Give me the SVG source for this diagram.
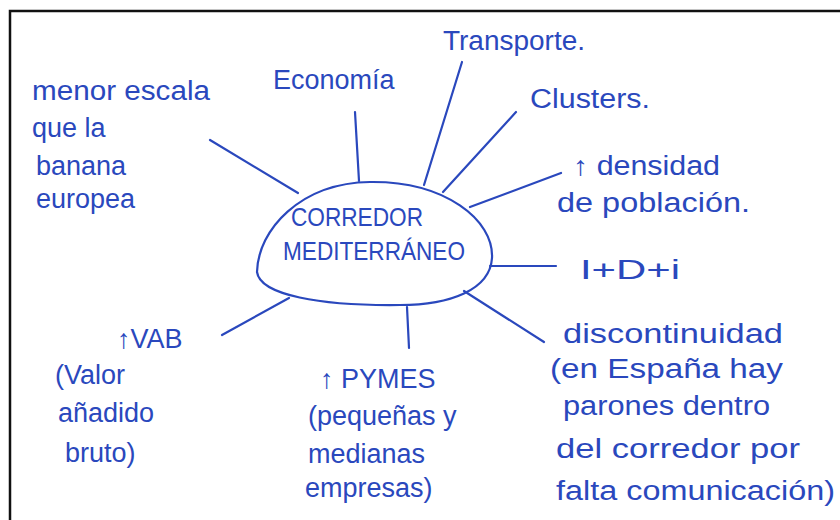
<svg xmlns="http://www.w3.org/2000/svg" width="840" height="520" viewBox="0 0 840 520">
<style>
.t{font-family:"Liberation Sans",Arial,sans-serif;font-size:27px;fill:#2a48bd}
.c{font-family:"Liberation Sans",Arial,sans-serif;font-size:25px;fill:#2a48bd}
.l{stroke:#2a48bd;stroke-width:2.2;stroke-linecap:round;fill:none}
</style>
<rect x="0" y="0" width="840" height="520" fill="#ffffff"/>
<path d="M10,520 L10,11 L840,11" fill="none" stroke="#111" stroke-width="2.5"/>
<g id="connectors">
<line class="l" x1="210" y1="140" x2="298" y2="193"/>
<line class="l" x1="355" y1="112" x2="359" y2="181"/>
<line class="l" x1="462" y1="62" x2="424" y2="185"/>
<line class="l" x1="516" y1="112" x2="443" y2="192"/>
<line class="l" x1="561" y1="173" x2="470" y2="207"/>
<line class="l" x1="490" y1="266" x2="556" y2="266"/>
<line class="l" x1="464" y1="291" x2="544" y2="342"/>
<line class="l" x1="407" y1="307" x2="409" y2="348"/>
<line class="l" x1="289" y1="298" x2="222" y2="335"/>
</g>
<g id="center">
<path class="l" d="M257,272 C258,230 300,183 370,182 C445,181 494,220 492,258 C490,290 450,305 400,305 C320,306 260,295 257,272 Z"/>
<text class="c" x="291" y="226" textLength="132" lengthAdjust="spacingAndGlyphs">CORREDOR</text>
<text class="c" x="283" y="260" textLength="182" lengthAdjust="spacingAndGlyphs">MEDITERRÁNEO</text>
</g>
<g id="n-escala">
<text class="t" x="32" y="100" textLength="178" lengthAdjust="spacingAndGlyphs">menor escala</text>
<text class="t" x="32" y="137">que la</text>
<text class="t" x="36" y="175">banana</text>
<text class="t" x="36" y="208">europea</text>
</g>
<g id="n-economia"><text class="t" x="273" y="89">Economía</text></g>
<g id="n-transporte"><text class="t" x="443" y="50" textLength="142" lengthAdjust="spacingAndGlyphs">Transporte.</text></g>
<g id="n-clusters"><text class="t" x="530" y="108" textLength="120" lengthAdjust="spacingAndGlyphs">Clusters.</text></g>
<g id="n-densidad">
<text class="t" x="573" y="175" textLength="147" lengthAdjust="spacingAndGlyphs">↑ densidad</text>
<text class="t" x="557" y="212" textLength="193" lengthAdjust="spacingAndGlyphs">de población.</text>
</g>
<g id="n-idi"><text class="t" x="580" y="279" textLength="100" lengthAdjust="spacingAndGlyphs">I+D+i</text></g>
<g id="n-discontinuidad">
<text class="t" x="563" y="343" textLength="220" lengthAdjust="spacingAndGlyphs">discontinuidad</text>
<text class="t" x="550" y="378" textLength="233" lengthAdjust="spacingAndGlyphs">(en España hay</text>
<text class="t" x="563" y="415" textLength="207" lengthAdjust="spacingAndGlyphs">parones dentro</text>
<text class="t" x="556" y="458" textLength="244" lengthAdjust="spacingAndGlyphs">del corredor por</text>
<text class="t" x="556" y="500" textLength="279" lengthAdjust="spacingAndGlyphs">falta comunicación)</text>
</g>
<g id="n-pymes">
<text class="t" x="320" y="388">↑ PYMES</text>
<text class="t" x="308" y="425">(pequeñas y</text>
<text class="t" x="308" y="463">medianas</text>
<text class="t" x="305" y="497">empresas)</text>
</g>
<g id="n-vab">
<text class="t" x="117" y="348">↑VAB</text>
<text class="t" x="55" y="384">(Valor</text>
<text class="t" x="58" y="422">añadido</text>
<text class="t" x="65" y="462">bruto)</text>
</g>
</svg>
